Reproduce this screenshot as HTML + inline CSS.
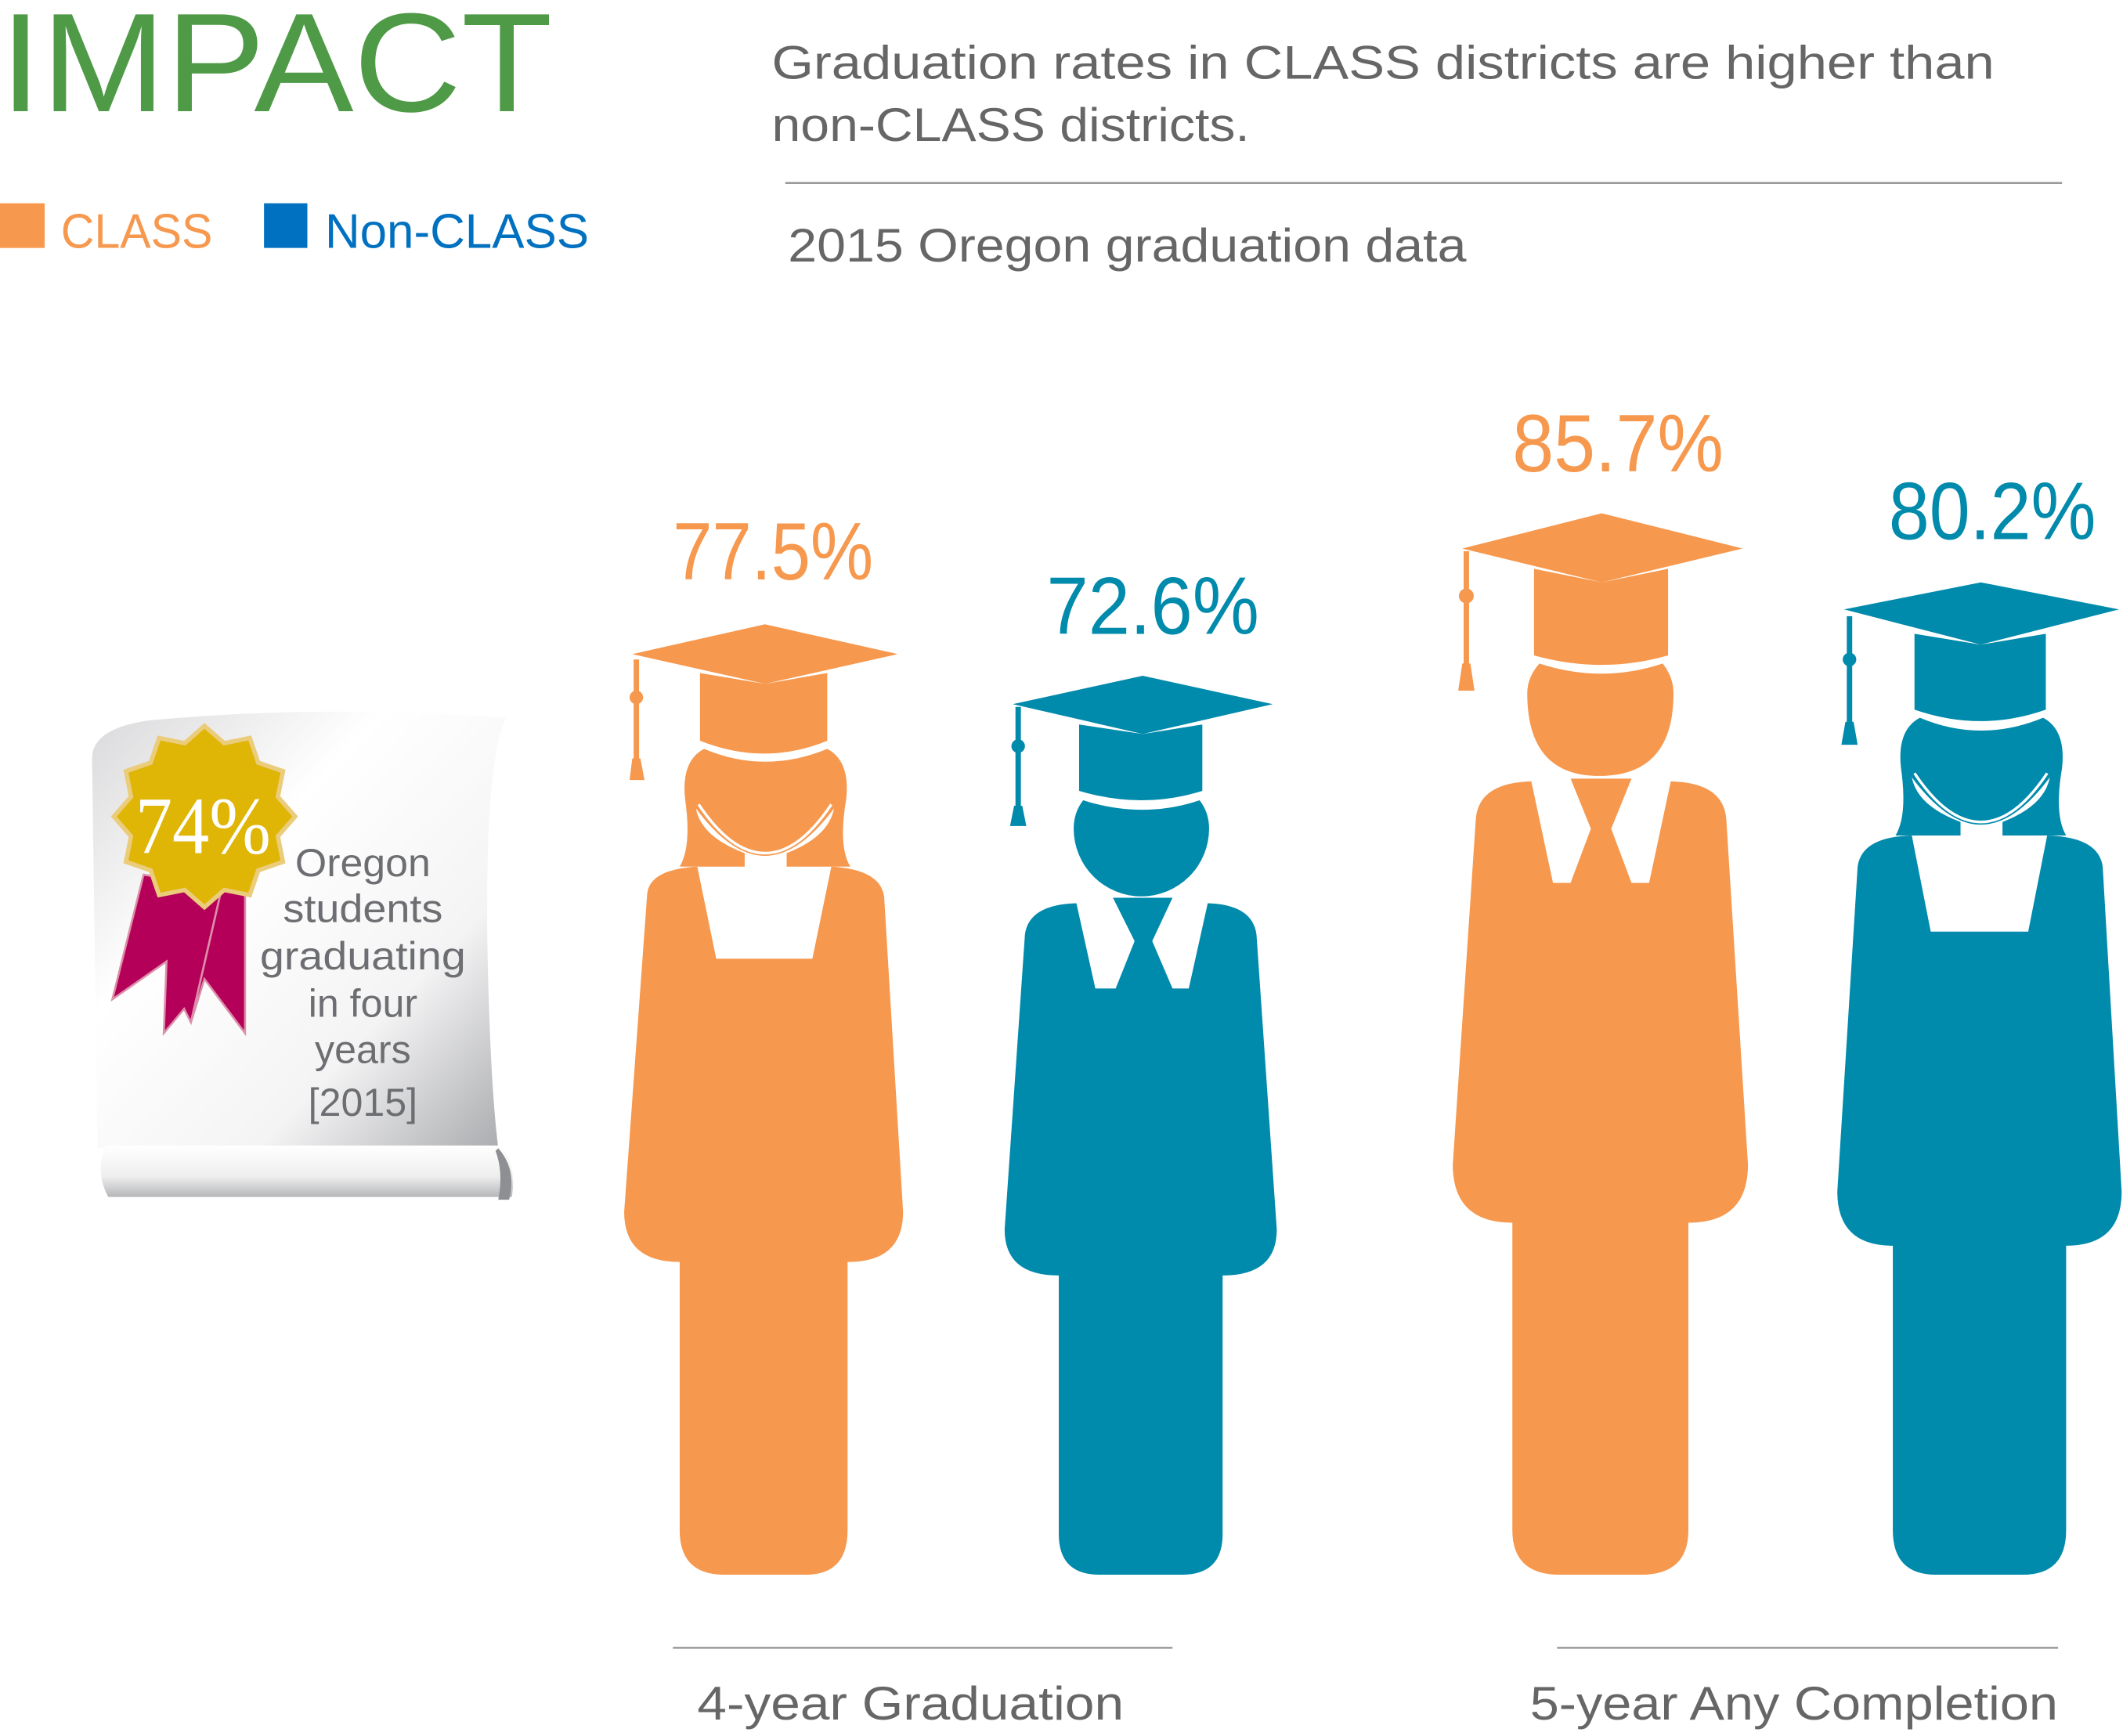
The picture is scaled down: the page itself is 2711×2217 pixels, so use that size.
<!DOCTYPE html>
<html><head><meta charset="utf-8"><style>html,body{margin:0;padding:0;background:#fff}svg{display:block}</style></head>
<body>
<svg width="2711" height="2217" viewBox="0 0 1568 1282" xmlns="http://www.w3.org/2000/svg">
<defs>
<linearGradient id="sg" x1="0" y1="0" x2="1" y2="1">
<stop offset="0" stop-color="#d9d9db"/><stop offset="0.35" stop-color="#ffffff"/><stop offset="0.7" stop-color="#f4f4f5"/><stop offset="1" stop-color="#a9aaad"/>
</linearGradient>
<linearGradient id="rg" x1="0" y1="0" x2="0" y2="1">
<stop offset="0" stop-color="#ffffff"/><stop offset="0.6" stop-color="#eeeeef"/><stop offset="1" stop-color="#b5b6b8"/>
</linearGradient>
</defs>
<g font-family="Liberation Sans, sans-serif">
<text x="0" y="82" font-size="104" fill="#4f9a47" textLength="408" lengthAdjust="spacingAndGlyphs">IMPACT</text>
<rect x="0" y="150" width="33" height="33" fill="#f6984e"/>
<text x="45" y="183" font-size="36" fill="#f6984e" textLength="112" lengthAdjust="spacingAndGlyphs">CLASS</text>
<rect x="195" y="150" width="32" height="33" fill="#0070c0"/>
<text x="240" y="183" font-size="36" fill="#0070c0" textLength="195" lengthAdjust="spacingAndGlyphs">Non-CLASS</text>
<text x="570" y="58" font-size="35" fill="#666" textLength="903" lengthAdjust="spacingAndGlyphs">Graduation rates in CLASS districts are higher than</text>
<text x="570" y="104" font-size="35" fill="#666" textLength="353" lengthAdjust="spacingAndGlyphs">non-CLASS districts.</text>
<line x1="580" y1="135" x2="1523" y2="135" stroke="#999" stroke-width="1.5"/>
<text x="582" y="193" font-size="35" fill="#666" textLength="501" lengthAdjust="spacingAndGlyphs">2015 Oregon graduation data</text>

<line x1="497" y1="1217" x2="866" y2="1217" stroke="#999" stroke-width="1.5"/>
<line x1="1150" y1="1217" x2="1520" y2="1217" stroke="#999" stroke-width="1.5"/>
<text x="515" y="1270" font-size="35" fill="#666" textLength="315" lengthAdjust="spacingAndGlyphs">4-year Graduation</text>
<text x="1130" y="1270" font-size="35" fill="#666" textLength="390" lengthAdjust="spacingAndGlyphs">5-year Any Completion</text>

<text x="497" y="428" font-size="60" fill="#f6984e" textLength="148" lengthAdjust="spacingAndGlyphs">77.5%</text>
<text x="773" y="468" font-size="60" fill="#008aab" textLength="157" lengthAdjust="spacingAndGlyphs">72.6%</text>
<text x="1117" y="348" font-size="60" fill="#f6984e" textLength="156" lengthAdjust="spacingAndGlyphs">85.7%</text>
<text x="1395" y="398" font-size="60" fill="#008aab" textLength="153" lengthAdjust="spacingAndGlyphs">80.2%</text>
</g>

<!-- scroll -->
<path d="M72,848 L68,560 Q68,538 110,532 Q240,520 374,530 Q358,560 360,700 Q362,800 368,848 Z" fill="url(#sg)"/>
<path d="M78,846 L370,846 Q382,862 378,884 L80,884 Q70,866 78,846 Z" fill="url(#rg)"/>
<path d="M368,848 Q382,864 376,886 L368,886 Q372,866 366,850 Z" fill="#8e8f92"/>

<!-- ribbon -->
<polygon points="106,646 83,738 123,710 121,763 136,745 141,755 164,655" fill="#b5005a" stroke="#dc8fa9" stroke-width="1.5"/>
<polygon points="164,655 181,648 181,763 151,723 141,755" fill="#b5005a" stroke="#dc8fa9" stroke-width="1.5"/>
<g transform="translate(151,603) scale(1.08) translate(-150,-605)">
<polygon points="212,605 200.2,618.5 203.7,636 186.8,641.8 181,658.7 163.5,655.2 150,667 136.5,655.2 119,658.7 113.2,641.8 96.3,636 99.8,618.5 88,605 99.8,591.5 96.3,574 113.2,568.2 119,551.3 136.5,554.8 150,543 163.5,554.8 181,551.3 186.8,568.2 203.7,574 200.2,591.5" fill="#dfb506" stroke="#ebcc7a" stroke-width="3"/>
</g>
<text x="150" y="630" font-family="Liberation Serif, serif" font-size="60" fill="#fff" text-anchor="middle" textLength="100" lengthAdjust="spacingAndGlyphs">74%</text>
<g font-family="Liberation Sans, sans-serif" font-size="29" fill="#6d6e71" text-anchor="middle">
<text x="268" y="647" textLength="100" lengthAdjust="spacingAndGlyphs">Oregon</text>
<text x="268" y="681" textLength="118" lengthAdjust="spacingAndGlyphs">students</text>
<text x="268" y="716" textLength="152" lengthAdjust="spacingAndGlyphs">graduating</text>
<text x="268" y="751">in four</text>
<text x="268" y="785">years</text>
<text x="268" y="824">[2015]</text>
</g>

<!-- figure 1 orange female -->
<g fill="#f6984e">
<polygon points="467,483 565,461 663,483 565,505"/>
<path d="M517,497 L565,505 L611,497 L611,547 Q565,566 517,547 Z"/>
<path d="M520,553 Q565,572 611,553 Q628,562 625,590 Q619,625 628,640 L581,640 L581,630 Q612,618 616,597 Q590,632 565,632 Q540,632 514,597 Q518,618 550,630 L550,640 L502,640 Q511,625 506,590 Q503,562 520,553 Z"/>
<path d="M478,660 Q480,642 515,640 L529,708 L600,708 L614,640 Q650,642 653,662 L667,895 Q667,932 626,932 L626,1130 Q626,1163 595,1163 L535,1163 Q502,1163 502,1130 L502,932 Q461,932 461,895 Z"/>
<rect x="468" y="487" width="4" height="80"/><circle cx="470" cy="515" r="5"/><polygon points="467,560 473,560 476,576 465,576"/>
</g>
<path d="M516,594 Q540,630 565,630 Q590,630 614,594" fill="none" stroke="#fff" stroke-width="2"/>

<!-- figure 2 teal male -->
<g fill="#008aab">
<polygon points="748,520 844,499 940,520 844,542"/>
<path d="M797,535 L844,542 L888,535 L888,584 Q844,598 797,584 Z"/>
<path d="M800,591 Q844,605 886,591 Q893,600 893,612 A50,50 0 0 1 793,612 Q793,600 800,591 Z"/>
<path d="M757,690 Q760,668 795,667 L809,730 L824,730 L838,695 L822,663 L866,663 L851,695 L866,730 L878,730 L892,667 Q925,668 928,690 L943,908 Q943,942 903,942 L903,1133 Q903,1163 873,1163 L812,1163 Q782,1163 782,1133 L782,942 Q742,942 742,908 Z"/>
<rect x="750" y="522" width="4" height="80"/><circle cx="752" cy="551" r="5"/><polygon points="749,595 755,595 758,610 746,610"/>
</g>

<!-- figure 3 orange male -->
<g fill="#f6984e">
<polygon points="1080,405 1183,379 1287,405 1183,430"/>
<path d="M1133,420 L1183,430 L1232,420 L1232,484 Q1183,498 1133,484 Z"/>
<path d="M1137,490 Q1183,505 1228,490 Q1236,500 1236,512 Q1236,573 1181,573 Q1128,573 1128,512 Q1128,500 1137,490 Z"/>
<path d="M1090,605 Q1092,578 1131,577 L1147,652 L1160,652 L1175,612 L1160,575 L1205,575 L1190,612 L1205,652 L1218,652 L1234,577 Q1273,578 1275,605 L1291,860 Q1291,903 1247,903 L1247,1130 Q1247,1163 1212,1163 L1152,1163 Q1117,1163 1117,1130 L1117,903 Q1073,903 1073,860 Z"/>
<rect x="1081" y="407" width="4" height="90"/><circle cx="1083" cy="440" r="5.5"/><polygon points="1080,490 1086,490 1089,510 1077,510"/>
</g>

<!-- figure 4 teal female -->
<g fill="#008aab">
<polygon points="1362,450 1463,430 1565,450 1463,476"/>
<path d="M1414,468 L1463,476 L1511,468 L1511,524 Q1463,541 1414,524 Z"/>
<g transform="translate(898,-23)">
<path d="M520,553 Q565,572 611,553 Q628,562 625,590 Q619,625 628,640 L581,640 L581,630 Q612,618 616,597 Q590,632 565,632 Q540,632 514,597 Q518,618 550,630 L550,640 L502,640 Q511,625 506,590 Q503,562 520,553 Z"/>
</g>
<path d="M1372,640 Q1375,618 1412,617 L1426,688 L1498,688 L1512,617 Q1550,618 1553,640 L1567,880 Q1567,920 1526,920 L1526,1130 Q1526,1163 1494,1163 L1430,1163 Q1398,1163 1398,1130 L1398,920 Q1357,920 1357,880 Z"/>
<rect x="1364" y="455" width="4" height="85"/><circle cx="1366" cy="487" r="5"/><polygon points="1363,533 1369,533 1372,550 1360,550"/>
</g>
<path d="M1414,571 Q1438,607 1463,607 Q1488,607 1512,571" fill="none" stroke="#fff" stroke-width="2"/>
</svg>
</body></html>
